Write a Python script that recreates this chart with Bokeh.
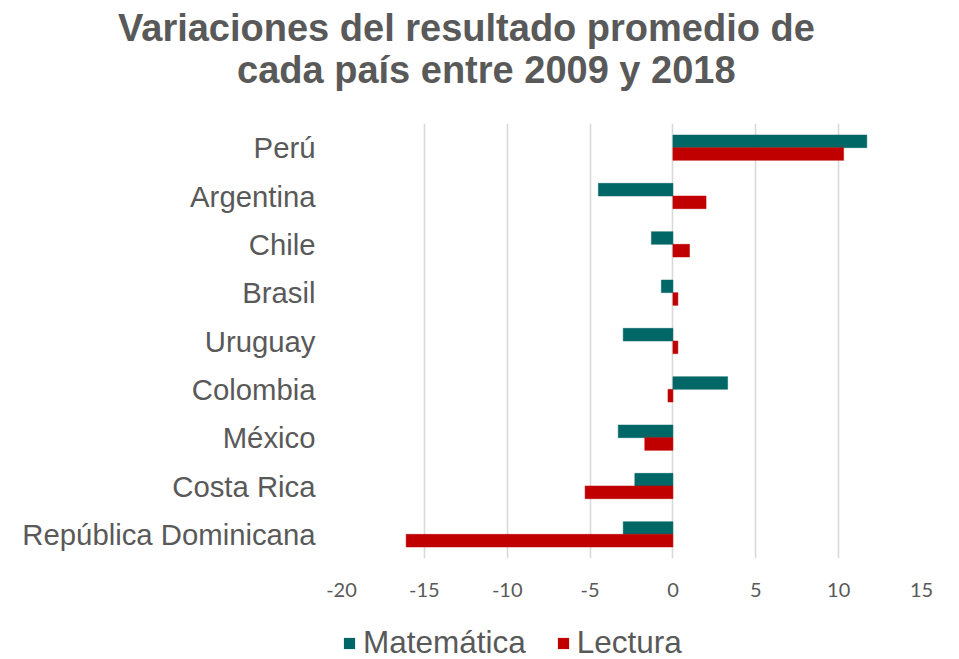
from bokeh.plotting import figure
from bokeh.models import (FactorRange, Range1d, FixedTicker, Legend, LegendItem,
                          Div, ColumnDataSource)
from bokeh.layouts import column
from bokeh.transform import dodge
from bokeh.embed import file_html
from bokeh.resources import INLINE

countries = ["Perú", "Argentina", "Chile", "Brasil", "Uruguay", "Colombia",
             "México", "Costa Rica", "República Dominicana"]
matematica = [11.7, -4.5, -1.3, -0.7, -3.0, 3.3, -3.3, -2.3, -3.0]
lectura = [10.3, 2.0, 1.0, 0.3, 0.3, -0.3, -1.7, -5.3, -16.1]
x_ticks = [-20, -15, -10, -5, 0, 5, 10, 15]
series_names = ["Matemática", "Lectura"]
title_lines = ["Variaciones del resultado promedio de", "cada país entre 2009 y 2018"]

TEXT = "#595959"
TEAL = "#006666"
RED = "#C00000"

src = ColumnDataSource(dict(country=countries, mat=matematica, lec=lectura))

W = 940
TITLE_H = 100
FL, FW, FH = 341, 580, 435
FT = 123 - TITLE_H
H1 = 502
H2 = 57

# ---- title ----
title = Div(
    text=(f'<div style="padding-left:118px">{title_lines[0]}</div>'
          f'<div style="padding-left:237px">{title_lines[1]}</div>'),
    width=W, height=TITLE_H,
    styles={"font-family": "Liberation Sans, Arial, sans-serif",
            "font-weight": "bold", "font-size": "38px", "line-height": "42px",
            "color": TEXT, "padding-top": "7px", "white-space": "nowrap",
            "margin": "0"})

# ---- main chart ----
p = figure(width=W, height=H1, output_backend="svg", toolbar_location=None,
           y_range=FactorRange(factors=list(reversed(countries))),
           x_range=Range1d(-20, 15),
           min_border_left=FL, min_border_right=W - FL - FW,
           min_border_top=FT, min_border_bottom=H1 - FT - FH)
p.outline_line_color = None
p.background_fill_color = "white"
p.border_fill_color = "white"

bh = 0.262
p.hbar(y=dodge("country", bh / 2, range=p.y_range), right="mat", left=0,
       height=bh, source=src, fill_color=TEAL, line_color=TEAL, line_width=0.5)
p.hbar(y=dodge("country", -bh / 2, range=p.y_range), right="lec", left=0,
       height=bh, source=src, fill_color=RED, line_color=RED, line_width=0.5)

p.xaxis.ticker = FixedTicker(ticks=x_ticks)
p.xaxis.major_label_overrides = {t: str(t) for t in x_ticks}
p.xaxis.axis_line_color = None
p.xaxis.major_tick_line_color = None
p.xaxis.minor_tick_line_color = None
p.xaxis.major_tick_out = 0
p.xaxis.major_label_standoff = 24
p.xaxis.major_label_text_font = "Lato"
p.xaxis.major_label_text_font_size = "20px"
p.xaxis.major_label_text_color = TEXT

p.yaxis.axis_line_color = None
p.yaxis.major_tick_line_color = None
p.yaxis.major_tick_out = 0
p.yaxis.major_label_standoff = 26
p.yaxis.major_label_text_font = "Liberation Sans"
p.yaxis.major_label_text_font_size = "29.3px"
p.yaxis.major_label_text_color = TEXT

p.xgrid.grid_line_color = "#d9d9d9"
p.xgrid.grid_line_width = 1.6
p.ygrid.grid_line_color = None

# ---- legend strip: zero-height proxies of the two series carry their styles ----
q = figure(width=W, height=H2, output_backend="svg", toolbar_location=None,
           y_range=FactorRange(factors=list(reversed(countries))),
           x_range=Range1d(-20, 15),
           x_axis_type=None, y_axis_type=None, min_border=0)
q.outline_line_color = None
q.grid.visible = False
l1 = q.hbar(y="country", right="mat", left=0, height=0, source=src,
            fill_color=TEAL, line_color=None)
l2 = q.hbar(y="country", right="lec", left=0, height=0, source=src,
            fill_color=RED, line_color=None)
legend = Legend(items=[LegendItem(label=series_names[0], renderers=[l1], index=0),
                       LegendItem(label=series_names[1], renderers=[l2], index=0)],
                orientation="horizontal", location=(1, -2),
                label_text_font="Liberation Sans", label_text_font_size="31.5px",
                label_text_color=TEXT, glyph_width=14, glyph_height=14,
                label_standoff=7, spacing=30, padding=0, margin=0,
                border_line_color=None, background_fill_alpha=0)
q.add_layout(legend, "center")

layout = column(title, p, q, spacing=0)
open("out.html", "w").write(file_html(layout, INLINE))
